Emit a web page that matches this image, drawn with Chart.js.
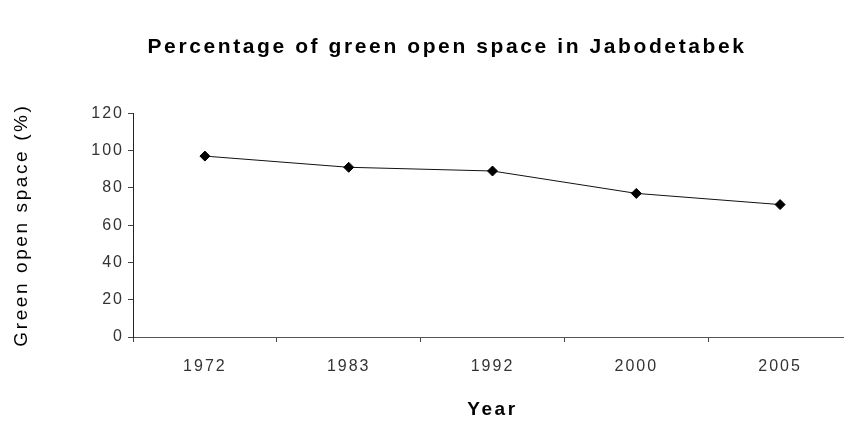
<!DOCTYPE html>
<html>
<head>
<meta charset="utf-8">
<script src="https://cdn.jsdelivr.net/npm/chart.js@4.4.1/dist/chart.umd.min.js"></script>
<style>
  html, body { margin: 0; padding: 0; background: #fff; overflow: hidden; }
  #wrap { width: 858px; height: 423px; }
</style>
</head>
<body>
<div id="wrap"><canvas id="lineChart" width="858" height="423"></canvas></div>
<script>
// data
const years = ["1972", "1983", "1992", "2000", "2005"];
const greenSpace = [97, 91, 89, 77, 71];
const yTicks = [0, 20, 40, 60, 80, 100, 120];

// the original figure has widely spaced lettering:
// titles get wider spacing, tick labels (drawn after the datasets, ticks.z = 1) a bit less
const spacing = {
  id: 'spacing',
  beforeUpdate(chart) { chart.ctx.letterSpacing = '2px'; },
  beforeDraw(chart) {
    chart.ctx.letterSpacing = '2.6px';
    // the printed title sits right of the canvas centre
    if (chart.titleBlock) chart.titleBlock.left = 40;
  },
  beforeDatasetsDraw(chart) { chart.ctx.letterSpacing = '2px'; }
};

const ctx = document.getElementById('lineChart');
new Chart(ctx, {
  type: 'line',
  data: {
    labels: years,
    datasets: [{
      label: 'Green open space',
      data: greenSpace,
      borderColor: '#111',
      borderWidth: 1,
      pointStyle: 'rectRot',
      pointRadius: 5,
      pointBackgroundColor: '#000',
      pointBorderColor: '#000',
      tension: 0
    }]
  },
  options: {
    responsive: false,
    animation: false,
    layout: { padding: { left: 0, right: 4, top: 0, bottom: 0 } },
    plugins: {
      legend: { display: false },
      tooltip: { enabled: false },
      title: {
        display: true,
        text: 'Percentage of green open space in Jabodetabek',
        color: '#000',
        font: { family: 'Liberation Sans', size: 21, weight: 'bold' },
        padding: { top: 35, bottom: 53 }
      }
    },
    scales: {
      x: {
        offset: true,
        grid: { offset: true, drawOnChartArea: false, drawTicks: true, tickLength: 5, color: '#444' },
        border: { color: '#555', width: 1 },
        ticks: { z: 1, color: '#333', font: { family: 'Liberation Sans', size: 16 }, padding: 15 },
        title: {
          display: true,
          text: 'Year',
          color: '#000',
          font: { family: 'Liberation Sans', size: 19, weight: 'bold' },
          padding: { top: 0, bottom: 2 }
        },
        afterFit(scale) { scale.height = 86; }
      },
      y: {
        min: 0,
        max: 120,
        afterBuildTicks(scale) { scale.ticks = yTicks.map(v => ({ value: v })); },
        grid: { drawOnChartArea: false, drawTicks: true, tickLength: 5, color: '#444' },
        border: { color: '#222', width: 1 },
        ticks: { z: 1, color: '#333', font: { family: 'Liberation Sans', size: 16 }, padding: 4 },
        title: {
          display: true,
          text: 'Green open space (%)',
          color: '#000',
          font: { family: 'Liberation Sans', size: 19 },
          padding: { top: 10, bottom: 0 }
        },
        afterFit(scale) { scale.width = 133; }
      }
    }
  },
  plugins: [spacing]
});
</script>
</body>
</html>
